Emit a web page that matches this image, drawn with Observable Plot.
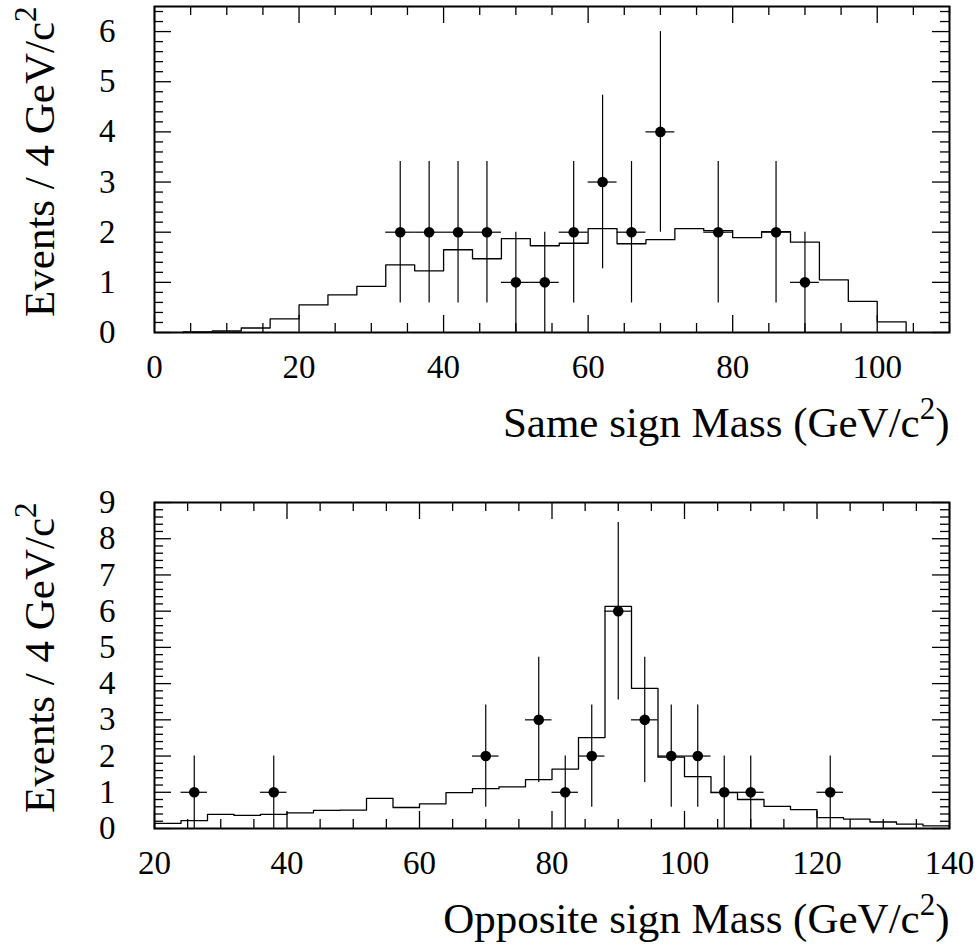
<!DOCTYPE html>
<html>
<head>
<meta charset="utf-8">
<script src="https://cdn.jsdelivr.net/npm/d3@7"></script>
<script src="https://cdn.jsdelivr.net/npm/@observablehq/plot@0.6"></script>
<style>
  body { margin: 0; background: #fff; }
  svg { display: block; }
</style>
</head>
<body>
<div id="chart"></div>
<script>
// ---------- Same sign panel ----------
const ssX   = [34, 38, 42, 46, 50, 54, 58, 62, 66, 70, 78, 86, 90];
const ssN   = [2, 2, 2, 2, 1, 1, 2, 3, 2, 4, 2, 2, 1];
const ssErr = [1.41, 1.41, 1.41, 1.41, 1, 1, 1.41, 1.73, 1.41, 2, 1.41, 1.41, 1];
const ssMcLo  = [4, 8, 12, 16, 20, 24, 28, 32, 36, 40, 44, 48, 52, 56, 60, 64, 68, 72, 76, 80, 84, 88, 92, 96, 100];
const ssMcVal = [0.01, 0.03, 0.09, 0.27, 0.55, 0.75, 0.92, 1.35, 1.23, 1.65, 1.47, 1.87, 1.73,
                 1.78, 2.07, 1.77, 1.85, 2.07, 2.03, 1.89, 2.01, 1.80, 1.05, 0.62, 0.21];
const ssXLabels = [0, 20, 40, 60, 80, 100];
const ssYLabels = [0, 1, 2, 3, 4, 5, 6];
const ssXTitle = "Same sign Mass (GeV/c^2)";

// ---------- Opposite sign panel ----------
const osX   = [26, 38, 70, 78, 82, 86, 90, 94, 98, 102, 106, 110, 122];
const osN   = [1, 1, 2, 3, 1, 2, 6, 3, 2, 2, 1, 1, 1];
const osErr = [1, 1, 1.41, 1.73, 1, 1.41, 2.45, 1.73, 1.41, 1.41, 1, 1, 1];
const osMcLo  = [20, 24, 28, 32, 36, 40, 44, 48, 52, 56, 60, 64, 68, 72, 76, 80, 84, 88, 92, 96,
                 100, 104, 108, 112, 116, 120, 124, 128, 132, 136];
const osMcVal = [0.14, 0.22, 0.39, 0.36, 0.39, 0.43, 0.50, 0.51, 0.83, 0.58, 0.68, 0.99, 1.10, 1.15, 1.35,
                 1.64, 2.51, 6.13, 3.87, 1.97, 1.43, 0.99, 0.80, 0.61, 0.52, 0.30, 0.26, 0.18, 0.12, 0.07];
const osXLabels = [20, 40, 60, 80, 100, 120, 140];
const osYLabels = [0, 1, 2, 3, 4, 5, 6, 7, 8, 9];
const osXTitle = "Opposite sign Mass (GeV/c^2)";

const yTitle = "Events / 4 GeV/c^2";
const binWidth = 4;

const FONT = "'Liberation Serif','Times New Roman',Times,serif";
const W = 979, ML = 154, MR = 30;
const TICK_COLOR = "black";

function histPoints(lo, val) {
  const pts = [{x: lo[0], y: 0}];
  lo.forEach((l, i) => { pts.push({x: l, y: val[i]}, {x: l + binWidth, y: val[i]}); });
  pts.push({x: lo[lo.length - 1] + binWidth, y: 0});
  return pts;
}

function tickMarks(xDomain, yDomain, plotW, plotH) {
  const xMaj = [], xMin = [], yMaj = [], yMin = [];
  for (let v = Math.ceil(xDomain[0] / 5) * 5; v <= xDomain[1] + 1e-9; v += 5) {
    (Math.abs(v % 20) < 1e-9 ? xMaj : xMin).push(v);
  }
  for (let k = 0; k * 0.2 <= yDomain[1] + 1e-9; k++) {
    (k % 5 === 0 ? yMaj : yMin).push(+(k * 0.2).toFixed(2));
  }
  const o = {stroke: TICK_COLOR, strokeWidth: 1.3};
  const big = 17, small = 9;
  return [
    Plot.ruleX(xMaj, {...o, x: d => d, insetTop: plotH - big}),
    Plot.ruleX(xMin, {...o, x: d => d, insetTop: plotH - small}),
    Plot.ruleX(xMaj, {...o, x: d => d, insetBottom: plotH - big}),
    Plot.ruleX(xMin, {...o, x: d => d, insetBottom: plotH - small}),
    Plot.ruleY(yMaj, {...o, y: d => d, insetRight: plotW - big}),
    Plot.ruleY(yMin, {...o, y: d => d, insetRight: plotW - small}),
    Plot.ruleY(yMaj, {...o, y: d => d, insetLeft: plotW - big}),
    Plot.ruleY(yMin, {...o, y: d => d, insetLeft: plotW - small})
  ];
}

function panel({xDomain, yDomain, xs, ns, errs, mcLo, mcVal, xLabels, yLabels, xTitle, height, marginTop, marginBottom}) {
  const pts = xs.map((x, i) => ({x, n: ns[i], e: errs[i]}));
  const plotW = W - ML - MR, plotH = height - marginTop - marginBottom;
  return Plot.plot({
    width: W,
    height,
    marginLeft: ML,
    marginRight: MR,
    marginTop,
    marginBottom,
    style: {fontFamily: FONT, background: "white", color: "black", overflow: "visible"},
    x: {domain: xDomain},
    y: {domain: yDomain},
    marks: [
      Plot.line(histPoints(mcLo, mcVal), {x: "x", y: "y", stroke: "black", strokeWidth: 1.3}),
      Plot.ruleX(pts, {x: "x", y1: d => Math.max(0, d.n - d.e), y2: d => d.n + d.e, stroke: "black", strokeWidth: 1.2}),
      Plot.ruleY(pts, {y: "n", x1: d => d.x - binWidth / 2, x2: d => d.x + binWidth / 2, stroke: "black", strokeWidth: 1.2}),
      Plot.dot(pts, {x: "x", y: "n", r: 5.3, fill: "black"}),
      ...tickMarks(xDomain, yDomain, plotW, plotH),
      Plot.axisX(xLabels, {tickSize: 0, tickPadding: 22, fontSize: 33, label: null, tickFormat: d => String(d)}),
      Plot.axisY(yLabels, {tickSize: 0, tickPadding: 39, fontSize: 33, label: null, tickFormat: d => String(d)}),
      Plot.frame({stroke: "black", strokeWidth: 2}),
      Plot.text([xTitle], {text: d => d, frameAnchor: "bottom-right", textAnchor: "end", lineAnchor: "bottom", dy: 104, fontSize: 43}),
      Plot.text([yTitle], {text: d => d, frameAnchor: "top-left", rotate: -90, textAnchor: "end", lineAnchor: "bottom", dx: -101, fontSize: 43})
    ]
  });
}

function superscripts(svg) {
  d3.select(svg).selectAll("text").each(function () {
    const t = this.textContent;
    if (!t.includes("^2")) return;
    const [a, b] = t.split("^2");
    const sel = d3.select(this);
    sel.text(null);
    sel.append("tspan").text(a);
    sel.append("tspan").attr("dy", -18).attr("font-size", 31).text("2");
    if (b) sel.append("tspan").attr("dy", 18).text(b);
  });
  return svg;
}

const topPanel = panel({
  xDomain: [0, 110], yDomain: [0, 6.5],
  xs: ssX, ns: ssN, errs: ssErr, mcLo: ssMcLo, mcVal: ssMcVal,
  xLabels: ssXLabels, yLabels: ssYLabels, xTitle: ssXTitle,
  height: 460, marginTop: 6, marginBottom: 128
});
const bottomPanel = panel({
  xDomain: [20, 140], yDomain: [0, 9],
  xs: osX, ns: osN, errs: osErr, mcLo: osMcLo, mcVal: osMcVal,
  xLabels: osXLabels, yLabels: osYLabels, xTitle: osXTitle,
  height: 490, marginTop: 42, marginBottom: 122
});
const root = document.getElementById("chart");
root.appendChild(superscripts(topPanel));
root.appendChild(superscripts(bottomPanel));
</script>
</body>
</html>
